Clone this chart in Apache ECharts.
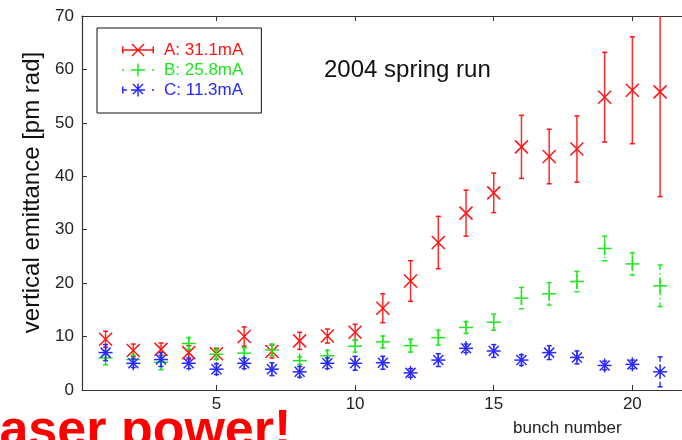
<!DOCTYPE html>
<html>
<head>
<meta charset="utf-8">
<script src="https://cdn.jsdelivr.net/npm/echarts@6/dist/echarts.min.js"></script>
<style>html,body{margin:0;padding:0;background:#fff;}#c{width:682px;height:440px;}</style>
</head>
<body>
<div id="c"></div>
<script>
// ---- data ----
const bunches = [1,2,3,4,5,6,7,8,9,10,11,12,13,14,15,16,17,18,19,20,21];
const seriesNames = ['A: 31.1mA', 'B: 25.8mA', 'C: 11.3mA'];
const aVal = [9.5,7.4,7.6,7.0,6.8,10.0,7.2,9.2,10.1,10.8,15.3,20.4,27.6,33.1,36.9,45.5,43.7,45.1,54.8,56.1,55.8];
const aErr = [1.5,1.2,1.2,1.3,1.0,1.8,1.2,1.6,1.3,1.5,2.7,3.8,4.9,4.3,3.7,5.9,5.1,6.2,8.4,10.0,19.6];
const bVal = [6.0,5.7,5.2,8.7,6.7,6.9,7.5,5.5,6.4,8.2,9.0,8.3,9.8,11.7,12.7,17.2,18.0,20.3,26.5,23.6,19.5];
const bErr = [1.3,0.8,1.4,1.1,0.8,1.0,1.1,0.7,1.0,1.1,1.1,1.2,1.4,1.1,1.5,2.0,2.1,1.9,2.3,2.1,3.9];
const cVal = [7.0,5.0,5.7,5.0,3.9,5.0,3.9,3.4,5.0,5.0,5.1,3.2,5.6,7.8,7.3,5.6,7.0,6.1,4.6,4.8,3.4];
const cErr = [1.5,0.8,1.3,1.0,1.0,1.0,1.2,1.0,1.0,1.3,1.2,0.8,1.2,0.8,1.2,1.0,1.3,1.2,0.8,0.8,2.8];
const xTicks = [5,10,15,20];
const yMin = 0, yMax = 70, yStep = 10;
const titleText = '2004 spring run';
const xName = 'bunch number';
const yName = 'vertical emittance [pm rad]';
const bannerText = 'laser power!';

// ---- styling ----
const colors = ['#ff1414', '#1ee61e', '#2828ff'];
const FONT = '"Liberation Sans", Arial, Helvetica, sans-serif';
const axisColor = '#333';

function toData(vals, errs) { return bunches.map((b, i) => [b, vals[i], errs[i]]); }

function makeRender(kind, color, dash) {
  return function (params, api) {
    const x = api.value(0), y = api.value(1), e = api.value(2);
    const c = api.coord([x, y]);
    const hi = api.coord([x, y + e]);
    const lo = api.coord([x, y - e]);
    const cap = 2.5;
    const lineStyle = { stroke: color, lineWidth: 1.5, lineDash: dash || null, opacity: 0.9 };
    const mStyle = { stroke: color, lineWidth: 1.5 };
    const ch = [];
    ch.push({ type: 'line', shape: { x1: c[0], y1: hi[1], x2: c[0], y2: lo[1] }, style: lineStyle });
    ch.push({ type: 'line', shape: { x1: c[0] - cap, y1: hi[1], x2: c[0] + cap, y2: hi[1] }, style: mStyle });
    ch.push({ type: 'line', shape: { x1: c[0] - cap, y1: lo[1], x2: c[0] + cap, y2: lo[1] }, style: mStyle });
    const r = 6.5;
    if (kind === 'x' || kind === '*') {
      const d = kind === 'x' ? r : 5;
      ch.push({ type: 'line', shape: { x1: c[0] - d, y1: c[1] - d, x2: c[0] + d, y2: c[1] + d }, style: mStyle });
      ch.push({ type: 'line', shape: { x1: c[0] - d, y1: c[1] + d, x2: c[0] + d, y2: c[1] - d }, style: mStyle });
    }
    if (kind === '+' || kind === '*') {
      const d = 7;
      ch.push({ type: 'line', shape: { x1: c[0] - d, y1: c[1], x2: c[0] + d, y2: c[1] }, style: mStyle });
      ch.push({ type: 'line', shape: { x1: c[0], y1: c[1] - d, x2: c[0], y2: c[1] + d }, style: mStyle });
    }
    return { type: 'group', children: ch };
  };
}

// legend icons (filled thin shapes in a 32 x 14 box)
const iconA = 'path://M0 6.25H32V7.75H0Z M0 3.5H1.5V10.5H0Z M30.5 3.5H32V10.5H30.5Z M9.5 1.5L10.5 0.5L22.5 12.5L21.5 13.5Z M9.5 12.5L21.5 0.5L22.5 1.5L10.5 13.5Z';
const iconB = 'path://M0 6.25H2V7.75H0Z M30 6.25H32V7.75H30Z M9 6.25H23V7.75H9Z M15.25 0.5H16.75V13.5H15.25Z';
const iconC = 'path://M0 3.5H1.5V10.5H0Z M0 6.25H5V7.75H0Z M30 6.25H32V7.75H30Z M9 6.25H23V7.75H9Z M15.25 0.5H16.75V13.5H15.25Z M10.5 1.5L11.5 0.5L21.5 10.5L20.5 11.5Z M10.5 10.5L20.5 0.5L21.5 1.5L11.5 11.5Z';

const chart = echarts.init(document.getElementById('c'), null, { renderer: 'canvas' });
const xMin = 0.15, xMax = 21.79;

const option = {
  animation: false,
  backgroundColor: '#fff',
  textStyle: { fontFamily: FONT },
  title: [
    { text: titleText, left: 324, top: 58, padding: 0,
      textStyle: { fontFamily: FONT, fontSize: 24, fontWeight: 'normal', color: '#111' } },
    { text: xName, left: 513, top: 420, padding: 0,
      textStyle: { fontFamily: FONT, fontSize: 17, fontWeight: 'normal', color: '#222' } },
    { text: bannerText, left: -15, top: 406, padding: 0,
      textStyle: { fontFamily: FONT, fontSize: 52, fontWeight: 'bold', color: '#ff0000' } }
  ],
  legend: {
    orient: 'vertical',
    left: 97, top: 28,
    padding: [12, 18, 13, 25],
    itemWidth: 32, itemHeight: 14, itemGap: 0,
    borderColor: '#111', borderWidth: 1,
    selectedMode: false,
    textStyle: { fontFamily: FONT, fontSize: 17, lineHeight: 20, padding: [0, 0, 0, 5] },
    data: [
      { name: seriesNames[0], icon: iconA, textStyle: { color: colors[0] } },
      { name: seriesNames[1], icon: iconB, textStyle: { color: colors[1] } },
      { name: seriesNames[2], icon: iconC, textStyle: { color: colors[2] } }
    ]
  },
  grid: { left: 82, right: 0, top: 16, bottom: 50, containLabel: false },
  xAxis: [
    { type: 'value', position: 'bottom', min: xMin, max: xMax,
      axisLine: { show: true, lineStyle: { color: axisColor, width: 1.2 } },
      axisTick: { show: true, inside: true, length: 5, customValues: xTicks, lineStyle: { color: axisColor } },
      axisLabel: { show: true, customValues: xTicks, margin: 6, fontSize: 17, color: '#222', fontFamily: FONT },
      splitLine: { show: false } },
    { type: 'value', position: 'top', min: xMin, max: xMax,
      axisLine: { show: true, onZero: false, lineStyle: { color: axisColor, width: 1.2 } },
      axisTick: { show: true, inside: true, length: 5, customValues: xTicks, lineStyle: { color: axisColor } },
      axisLabel: { show: false },
      splitLine: { show: false } }
  ],
  yAxis: {
    type: 'value', min: yMin, max: yMax, interval: yStep, position: 'left',
    name: yName, nameLocation: 'middle', nameGap: 38,
    nameTextStyle: { fontFamily: FONT, fontSize: 24, color: '#111', padding: [0, 0, 0, 21] },
    axisLine: { show: true, lineStyle: { color: axisColor, width: 1.2 } },
    axisTick: { show: true, inside: true, length: 5, lineStyle: { color: axisColor } },
    axisLabel: { margin: 8, fontSize: 17, color: '#222', fontFamily: FONT },
    splitLine: { show: false }
  },
  series: [
    { name: seriesNames[0], type: 'custom', clip: true, itemStyle: { color: colors[0] },
      renderItem: makeRender('x', colors[0], null), encode: { x: 0, y: 1 }, data: toData(aVal, aErr) },
    { name: seriesNames[1], type: 'custom', clip: true, itemStyle: { color: colors[1] },
      renderItem: makeRender('+', colors[1], [5, 3, 1.5, 3]), encode: { x: 0, y: 1 }, data: toData(bVal, bErr) },
    { name: seriesNames[2], type: 'custom', clip: true, itemStyle: { color: colors[2] },
      renderItem: makeRender('*', colors[2], [5, 3, 1.5, 3]), encode: { x: 0, y: 1 }, data: toData(cVal, cErr) }
  ]
};
chart.setOption(option);
</script>
</body>
</html>
